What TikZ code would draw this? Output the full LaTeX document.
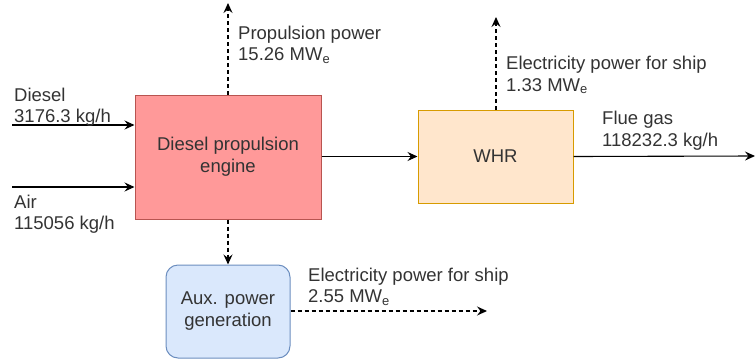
\documentclass[tikz,border=0pt]{standalone}
\usepackage{fontspec}
\setmainfont{Liberation Sans}
\usetikzlibrary{arrows.meta}
\definecolor{txt}{HTML}{333333}
\definecolor{engfill}{HTML}{FF9999}
\definecolor{engdraw}{HTML}{B85450}
\definecolor{whrfill}{HTML}{FFE6CC}
\definecolor{whrdraw}{HTML}{D79B00}
\definecolor{auxfill}{HTML}{DAE8FC}
\definecolor{auxdraw}{HTML}{6C8EBF}
\tikzset{
  box/.style={draw, line width=1pt, text=txt, align=center, inner sep=0pt,
    font=\fontsize{18.5}{22}\selectfont},
  lbl/.style={anchor=north west, inner sep=0pt, text=txt, align=left,
    font=\fontsize{18.5}{21.5}\selectfont},
  flow/.style={line width=1.1pt, -{Stealth[length=10pt,width=9pt,inset=3.5pt]}},
  pflow/.style={flow, dashed, dash pattern=on 4pt off 3pt}
}
\begin{document}
\begin{tikzpicture}[x=1pt,y=-1pt]
\useasboundingbox (0,0) rectangle (755,362);
\node[box, fill=engfill, draw=engdraw, minimum width=186pt, minimum height=124pt] (eng) at (228,157) {Diesel propulsion\\engine};
\node[box, fill=whrfill, draw=whrdraw, minimum width=155pt, minimum height=93pt] (whr) at (495.5,156.5) {WHR};
\node[box, fill=auxfill, draw=auxdraw, rounded corners=12pt, minimum width=124pt, minimum height=93pt] (aux) at (228,311.5) {Aux. power\\generation};
\coordinate (dsrc) at (12,125);
\coordinate (asrc) at (12,187);
\coordinate (pout) at (228,3);
\coordinate (wout) at (496,17);
\coordinate (fout) at (755,156);
\coordinate (aout) at (487,311);
\draw[flow] (dsrc) -- (dsrc -| eng.west);
\draw[flow] (asrc) -- (asrc -| eng.west);
\draw[pflow] (eng.north) -- (pout);
\draw[flow] (eng.east |- whr.west) -- (whr.west);
\draw[pflow] (whr.north -| wout) -- (wout);
\draw[flow] (whr.east) -- (fout);
\draw[pflow] (eng.south) -- (aux.north);
\draw[pflow] (aux.east |- aout) -- (aout);
\node[lbl] (ldiesel) at (14,87.5) {Diesel\\3176.3 kg/h};
\node[lbl] (lair) at (14,194.5) {Air\\115056 kg/h};
\node[lbl] (lprop) at (238,25.5) {Propulsion power\\15.26 MW\textsubscript{e}};
\node[lbl] (lwhr) at (506,56) {Electricity power for ship\\1.33 MW\textsubscript{e}};
\node[lbl] (lflue) at (602,111) {Flue gas\\118232.3 kg/h};
\node[lbl] (laux) at (308,267.5) {Electricity power for ship\\2.55 MW\textsubscript{e}};
\end{tikzpicture}
\end{document}
